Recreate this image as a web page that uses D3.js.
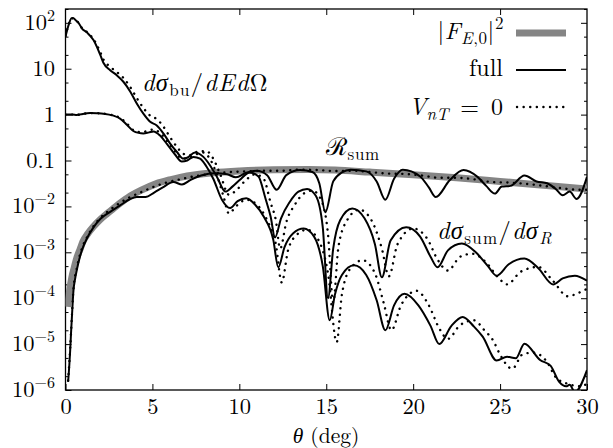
<!DOCTYPE html>
<html><head><meta charset="utf-8">
<script src="https://cdn.jsdelivr.net/npm/d3@7"></script>
<style>body{margin:0;background:#fff}svg{display:block}</style>
</head><body>
<svg id="c" width="613" height="448"></svg>
<script>
// ---- data: [theta (deg), value] ----
const formFactor = [[0.12,6.5e-5],[0.25,1.6e-4],[0.37,2.9e-4],[0.5,4.6e-4],[0.65,7.5e-4],[0.85,1.2e-3],[1.0,1.7e-3],[1.3,2.6e-3],[1.6,3.6e-3],[2.0,5.2e-3],[2.4,7e-3],[2.9,1.0e-2],[3.3,1.3e-2],[3.8,1.75e-2],[4.3,2.2e-2],[5.2,3.1e-2],[6.0,3.8e-2],[6.6,4.3e-2],[7.5,4.9e-2],[8.5,5.4e-2],[10,5.9e-2],[12,6.3e-2],[14,6.4e-2],[15.5,6.2e-2],[17.5,5.6e-2],[20,4.9e-2],[22.5,4.2e-2],[25,3.5e-2],[27.5,2.9e-2],[30,2.4e-2]];

const rsumFull = [[0.15,1.5e-6],[0.22,3.5e-6],[0.27,7.4e-6],[0.32,1.8e-5],[0.37,4e-5],[0.46,1.5e-4],[0.55,2.6e-4],[0.65,4.1e-4],[0.8,7.2e-4],[0.94,1.1e-3],[1.23,2e-3],[1.61,3.5e-3],[2.0,5.3e-3],[2.57,7.6e-3],[3.14,1.05e-2],[3.72,1.45e-2],[4.1,1.6e-2],[4.6,1.6e-2],[5.1,2.0e-2],[5.6,2.6e-2],[6.2,3.4e-2],[6.7,3.0e-2],[7.2,3.8e-2],[7.8,4.7e-2],[8.6,5.3e-2],[9.3,5.0e-2],[9.8,4.3e-2],[10.4,5.4e-2],[11.0,6.0e-2],[11.6,4.8e-2],[12.15,2.3e-2],[12.7,4.8e-2],[13.5,6.2e-2],[14.2,5.6e-2],[14.6,3.2e-2],[14.95,7.5e-3],[15.4,3.5e-2],[15.9,5.5e-2],[16.4,6.3e-2],[17.3,5.8e-2],[17.9,3.5e-2],[18.4,1.4e-2],[18.9,4e-2],[19.4,6.3e-2],[20.4,4.5e-2],[20.9,2.6e-2],[21.3,1.6e-2],[22.1,3.7e-2],[22.9,6.2e-2],[23.7,4.4e-2],[24.2,2.8e-2],[24.7,1.9e-2],[25.1,2.7e-2],[25.6,2.8e-2],[26.4,4.7e-2],[27.1,3.5e-2],[27.7,3.2e-2],[28.2,2.4e-2],[28.6,1.75e-2],[29.0,2.1e-2],[29.4,1.45e-2],[30,4.4e-2]];

const rsumV0 = [[0.15,1.6e-6],[0.27,8e-6],[0.37,4.2e-5],[0.46,1.6e-4],[0.65,4.5e-4],[0.94,1.2e-3],[1.23,2.1e-3],[1.61,3.7e-3],[2.0,5.6e-3],[2.57,8.5e-3],[3.14,1.2e-2],[3.72,1.6e-2],[4.3,2.0e-2],[5.0,2.6e-2],[5.8,3.3e-2],[6.6,3.9e-2],[7.5,4.6e-2],[8.5,5.2e-2],[9.5,5.6e-2],[10.5,5.8e-2],[11.5,6.0e-2],[12.5,6.0e-2],[13.5,6.3e-2],[14.5,6.2e-2],[15.5,5.9e-2],[16.5,6.0e-2],[17.5,5.6e-2],[18.5,5.2e-2],[19.5,5.1e-2],[20.5,4.7e-2],[21.5,4.2e-2],[22.5,4.2e-2],[23.5,3.9e-2],[24.5,3.4e-2],[25.5,3.3e-2],[26.5,3.1e-2],[27.5,2.8e-2],[28.5,2.5e-2],[29.5,2.3e-2],[30,2.3e-2]];

const buFull = [[0,50],[0.2,95],[0.35,125],[0.46,125],[0.6,112],[0.75,100],[0.94,76],[1.23,62],[1.61,42],[2.0,20],[2.18,13.5],[2.57,9.3],[2.95,7.2],[3.33,5.2],[3.72,3.2],[4.1,1.75],[4.48,1.05],[4.87,0.7],[5.25,0.58],[5.63,0.39],[6.0,0.24],[6.4,0.155],[6.78,0.11],[7.0,0.115],[7.45,0.15],[7.93,0.12],[8.3,0.08],[8.7,0.045],[9.2,0.021],[9.6,0.027],[10.0,0.037],[10.6,0.055],[11.1,0.045],[11.5,0.015],[11.8,6e-3],[12.05,2.1e-3],[12.4,5.5e-3],[12.9,0.0125],[13.4,0.021],[13.9,0.024],[14.4,0.017],[14.8,3.5e-3],[15.1,1e-4],[15.4,1.2e-3],[15.8,5e-3],[16.5,9e-3],[17.2,5.5e-3],[17.8,1.5e-3],[18.2,2.85e-4],[18.7,1.8e-3],[19.6,3.5e-3],[20.4,2.2e-3],[21.0,8e-4],[21.4,4.7e-4],[22.0,1.1e-3],[22.8,1.55e-3],[23.6,1e-3],[24.3,5e-4],[24.8,3.1e-4],[25.5,5.5e-4],[26.4,7.3e-4],[27.2,4.5e-4],[28.05,2.0e-4],[28.6,2.7e-4],[29.3,3.1e-4],[30,2.4e-4]];

const buV0 = [[0,52],[0.2,97],[0.35,126],[0.46,125],[0.6,113],[0.75,100],[0.94,78],[1.23,63],[1.61,44],[2.0,23],[2.18,16],[2.57,11],[2.95,8.5],[3.33,6.3],[3.72,4.0],[4.1,2.3],[4.48,1.4],[4.87,0.95],[5.25,0.8],[5.63,0.55],[6.0,0.33],[6.4,0.2],[6.78,0.14],[7.1,0.13],[7.6,0.155],[8.1,0.16],[8.5,0.11],[8.9,0.05],[9.4,0.018],[9.8,0.022],[10.3,0.035],[10.9,0.05],[11.4,0.04],[11.8,0.012],[12.1,5e-3],[12.35,1.2e-3],[12.7,4.5e-3],[13.2,0.011],[13.7,0.019],[14.2,0.022],[14.7,0.014],[15.1,2.5e-3],[15.4,8e-5],[15.7,1.3e-3],[16.2,5e-3],[16.9,8.5e-3],[17.6,5e-3],[18.2,1.2e-3],[18.6,3e-4],[19.1,1.5e-3],[20.0,3.3e-3],[20.8,2e-3],[21.4,7e-4],[22.0,4e-4],[22.7,8e-4],[23.4,9.3e-4],[24.2,6e-4],[24.9,2.8e-4],[25.4,2e-4],[26.2,3.8e-4],[27.2,4.8e-4],[28.0,2.5e-4],[28.9,1.1e-4],[29.5,1.3e-4],[30,1.6e-4]];

const sumRFull = [[0,1.0],[0.4,1.0],[0.65,0.98],[0.9,1.02],[1.42,1.08],[1.8,1.07],[2.18,1.05],[2.76,0.95],[3.14,0.82],[3.53,0.6],[3.9,0.44],[4.2,0.4],[4.48,0.39],[4.8,0.41],[5.06,0.43],[5.44,0.35],[5.83,0.23],[6.3,0.135],[6.69,0.095],[7.0,0.1],[7.36,0.12],[7.74,0.11],[8.1,0.075],[8.5,0.04],[9.0,0.014],[9.47,9.2e-3],[9.9,0.013],[10.4,0.015],[10.9,0.011],[11.4,6e-3],[11.95,1.9e-3],[12.24,4.7e-4],[12.6,1.3e-3],[13.1,2.6e-3],[13.7,3.3e-3],[14.3,2.2e-3],[14.8,5e-4],[15.2,3.3e-5],[15.5,1.2e-4],[15.9,3.2e-4],[16.6,5.2e-4],[17.3,3.2e-4],[17.9,9e-5],[18.4,2e-5],[18.9,7e-5],[19.5,1.25e-4],[20.3,7e-5],[21.0,2.5e-5],[21.5,1e-5],[22.2,2.5e-5],[22.85,3.9e-5],[23.5,2.4e-5],[24.0,1.45e-5],[24.8,4.4e-6],[25.4,5.3e-6],[25.9,4.9e-6],[26.4,1.02e-5],[27.3,4.5e-6],[27.9,3.4e-6],[28.4,1.5e-6],[28.8,1.2e-6],[29.0,1.3e-6],[29.3,9e-7],[30,2.7e-6]];

const sumRV0 = [[0,1.0],[0.4,1.0],[0.65,0.98],[0.9,1.02],[1.42,1.08],[1.8,1.07],[2.18,1.05],[2.76,0.96],[3.14,0.85],[3.53,0.64],[3.9,0.46],[4.2,0.42],[4.48,0.42],[4.8,0.46],[5.06,0.47],[5.44,0.4],[5.83,0.27],[6.3,0.16],[6.69,0.11],[7.0,0.11],[7.4,0.13],[7.9,0.15],[8.3,0.11],[8.7,0.05],[9.1,0.016],[9.4,7e-3],[9.8,0.01],[10.4,0.014],[11.0,0.011],[11.6,5e-3],[12.1,1.5e-3],[12.44,2.2e-4],[12.8,1.1e-3],[13.3,2.4e-3],[13.9,3.1e-3],[14.5,2e-3],[15.1,3.5e-4],[15.6,1.1e-5],[15.9,1.2e-4],[16.4,4.5e-4],[17.1,6.7e-4],[17.8,3.5e-4],[18.3,8e-5],[18.75,2e-5],[19.3,7e-5],[20.2,1.45e-4],[20.9,7e-5],[21.5,2.2e-5],[22.0,1.3e-5],[22.7,2.6e-5],[23.5,3.3e-5],[24.1,2e-5],[24.6,1.2e-5],[25.0,5.9e-6],[25.7,2.9e-6],[26.3,6e-6],[26.9,6.5e-6],[27.7,4.1e-6],[28.2,1.9e-6],[28.8,1.4e-6],[29.7,1.2e-6],[30,1.4e-6]];

const xTicks = [0,5,10,15,20,25,30];
const yMajor = [1e2,10,1,0.1,1e-2,1e-3,1e-4,1e-5,1e-6];
const yLabels = [["10","2"],["10",""],["1",""],["0.1",""],["10","−2"],["10","−3"],["10","−4"],["10","−5"],["10","−6"]];

// ---- layout ----
const FONT = "'Latin Modern Roman','Liberation Serif',serif";
const FS = 22.5, SFS = 16;
const L=65.5, R=587, T=9, B=390;
const svg = d3.select("#c");
const x = d3.scaleLinear().domain([0,30]).range([L,R]);
const y = d3.scaleLog().domain([1e-6,200]).range([B,T]);

const yMinor = [];
for (let e=-6;e<=2;e++){ [2,5].forEach(m=>{const v=m*Math.pow(10,e); if(v<=200) yMinor.push(v);}); }

function axis(gen, tx, ty){ const g=svg.append("g").attr("transform",`translate(${tx},${ty})`).call(gen); g.select(".domain").remove(); g.selectAll("line").attr("stroke","#000").attr("stroke-width",1); return g; }
const xb = axis(d3.axisBottom(x).tickValues(xTicks).tickSize(-6).tickPadding(12).tickFormat(d3.format("d")), 0, B);
xb.selectAll("text").style("font-family",FONT).style("font-size",FS+"px").attr("fill","#000").attr("dy",null).attr("y",24);
axis(d3.axisTop(x).tickValues(xTicks.slice(1,-1)).tickSize(-6).tickFormat(""), 0, T);
axis(d3.axisLeft(y).tickValues(yMajor).tickSize(-6).tickFormat(""), L, 0);
axis(d3.axisLeft(y).tickValues(yMinor).tickSize(-3).tickFormat(""), L, 0);
axis(d3.axisRight(y).tickValues(yMajor).tickSize(-6).tickFormat(""), R, 0);
axis(d3.axisRight(y).tickValues(yMinor).tickSize(-3).tickFormat(""), R, 0);

function txt(xp, yp, anchor, fs){
  return svg.append("text").attr("x",xp).attr("y",yp).attr("text-anchor",anchor||"start").attr("fill","#000")
    .style("font-family",FONT).style("font-size",(fs||FS)+"px");
}

// y labels
yMajor.forEach((v,i)=>{
  const t = txt(55, y(v)+7, "end");
  t.append("tspan").text(yLabels[i][0]);
  if (yLabels[i][1]) t.append("tspan").attr("dy",-9).style("font-size",SFS+"px").text(yLabels[i][1]);
});

// frame
svg.append("rect").attr("x",L).attr("y",T).attr("width",R-L).attr("height",B-T).attr("fill","none").attr("stroke","#000").attr("stroke-width",1.3);

// clip
svg.append("clipPath").attr("id","clip").append("rect").attr("x",L).attr("y",T).attr("width",R-L).attr("height",B-T);
const plot = svg.append("g").attr("clip-path","url(#clip)");
const line = d3.line().x(d=>x(d[0])).y(d=>y(d[1])).curve(d3.curveMonotoneX);

plot.append("path").datum(formFactor).attr("d",line).attr("fill","none").attr("stroke","#858585").attr("stroke-width",7);
const solid = s=>plot.append("path").datum(s).attr("d",line).attr("fill","none").attr("stroke","#000").attr("stroke-width",2);
const dotted = s=>plot.append("path").datum(s).attr("d",line).attr("fill","none").attr("stroke","#000").attr("stroke-width",2.4).attr("stroke-linecap","round").attr("stroke-dasharray","0.1 6.5");
dotted(rsumV0); dotted(buV0); dotted(sumRV0);
solid(rsumFull); solid(buFull); solid(sumRFull);

// legend
const lx1=516, lx2=566;
svg.append("line").attr("x1",lx1).attr("x2",lx2).attr("y1",33).attr("y2",33).attr("stroke","#858585").attr("stroke-width",7);
svg.append("line").attr("x1",lx1).attr("x2",lx2).attr("y1",70).attr("y2",70).attr("stroke","#000").attr("stroke-width",2);
svg.append("line").attr("x1",lx1+1).attr("x2",lx2).attr("y1",107).attr("y2",107).attr("stroke","#000").attr("stroke-width",2.4).attr("stroke-linecap","round").attr("stroke-dasharray","0.1 6.5");

function rich(xp, yp, parts, anchor, fs, ls){
  const size = fs||FS, ssize = Math.round(size*0.71);
  const t = txt(xp, yp, anchor, size);
  if (ls) t.style("letter-spacing",ls+"px");
  let shift=0;
  parts.forEach(p=>{
    const s=t.append("tspan").text(p.t).attr("fill","#000");
    const target = p.sub?Math.round(size*0.22):(p.sup?-Math.round(size*0.4):0);
    if (target!==shift){ s.attr("dy",target-shift); shift=target; }
    if (p.sub||p.sup) s.style("font-size",ssize+"px");
    if (p.i) s.style("font-style","italic");
  });
  return t;
}
rich(504,39,[{t:"|"},{t:"F",i:1},{t:"E",i:1,sub:1},{t:",0",sub:1},{t:"|"},{t:"2",sup:1}],"end",24,0.6);
rich(503,76,[{t:"full"}],"end",24);
rich(503,115,[{t:"V",i:1},{t:"nT",i:1,sub:1},{t:"\u2002=\u20020"}],"end",24);

// curve labels
rich(142,91,[{t:"dσ",i:1},{t:"bu",sub:1},{t:"/"},{t:"dEd",i:1},{t:"Ω"}],"start",24.5,1.3);
rich(326,155,[{t:"ℛ"},{t:"sum",sub:1}],"start",24.5,0.6);
rich(437,239,[{t:"dσ",i:1},{t:"sum",sub:1},{t:"/"},{t:"dσ",i:1},{t:"R",i:1,sub:1}],"start",24.5,1.3);

// axis title
rich(326,442.5,[{t:"θ",i:1},{t:" (deg)"}],"middle",21.5);
</script>
</body></html>
